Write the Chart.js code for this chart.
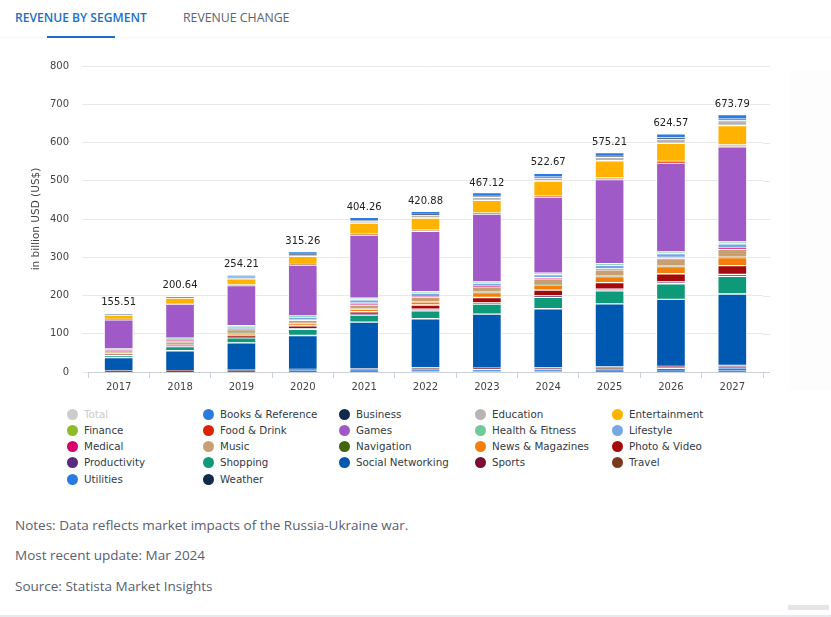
<!DOCTYPE html>
<html>
<head>
<meta charset="utf-8">
<script src="https://cdn.jsdelivr.net/npm/chart.js@4/dist/chart.umd.min.js"></script>
<style>
    html, body { margin: 0; padding: 0; background: #fff; }
    body { width: 831px; height: 617px; position: relative; overflow: hidden; font-family: "Open Sans", sans-serif; }
    .tab { position: absolute; top: 9px; white-space: nowrap; }
    .tab.active { left: 15px; color: #1a6fc9; font-size: 12.1px; font-weight: 600; }
    .tab.other { left: 183px; color: #5c6270; font-size: 12.3px; }
    #tabLine { position: absolute; left: 0; top: 37px; width: 831px; height: 1px; background: #f6f7f9; }
    #tabActive { position: absolute; left: 47px; top: 36px; width: 68px; height: 2px; background: #1a6fc9; }
    #chartBox { position: absolute; left: 0; top: 0; width: 831px; height: 401px; }
    #sideShade { position: absolute; left: 789px; top: 70px; width: 42px; height: 320px; background: #fdfdfe; }
    .legend-dot { position: absolute; width: 11px; height: 11px; border-radius: 50%; }
    .legend-text { position: absolute; font: 10.3px "DejaVu Sans", sans-serif; color: #333a45; white-space: nowrap; }
    .note { position: absolute; left: 15px; font-size: 13.5px; color: #5a6070; white-space: nowrap; }
    #footLine { position: absolute; left: 0; top: 615px; width: 831px; height: 2px; background: #e6e9ee; }
    #footBar { position: absolute; left: 788px; top: 605px; width: 41px; height: 5px; background: #e3e5e9; }
</style>
</head>
<body>
<div id="sideShade"></div>
<div class="tab active">REVENUE BY SEGMENT</div>
<div class="tab other">REVENUE CHANGE</div>
<div id="tabLine"></div>
<div id="tabActive"></div>
<div id="chartBox"><canvas id="segmentChart"></canvas></div>
<div id="legendBox"></div>
<div class="note" style="top:516px">Notes: Data reflects market impacts of the Russia-Ukraine war.</div>
<div class="note" style="top:546px">Most recent update: Mar 2024</div>
<div class="note" style="top:577px">Source: Statista Market Insights</div>
<div id="footBar"></div>
<div id="footLine"></div>

<script>
// ====== Categories and totals ======
const YEARS = ["2017", "2018", "2019", "2020", "2021", "2022", "2023", "2024", "2025", "2026", "2027"];
const TOTALS = [155.51, 200.64, 254.21, 315.26, 404.26, 420.88, 467.12, 522.67, 575.21, 624.57, 673.79];
const Y_TICKS = [0, 100, 200, 300, 400, 500, 600, 700, 800];

// ====== Segment values (billion USD) ======
const BOOKS = [0.5, 1.5, 6, 7, 8.5, 8, 10, 9.5, 10, 11, 12];
const BUSINESS = [0.2, 0.4, 1, 1.2, 1.5, 1.8, 2, 2.3, 2.6, 3, 3.5];
const EDUCATION = [0.3, 0.6, 3, 4, 5, 8, 8, 8, 9, 11, 13];
const ENTERTAINMENT = [11.5, 14.5, 16, 21, 29, 32, 33, 38, 45, 47, 50];
const FINANCE = [0.4, 0.5, 0.6, 0.7, 1, 1.1, 1.2, 1.4, 1.6, 1.8, 2];
const FOOD = [0.6, 0.8, 1, 1.2, 1.5, 1.7, 2, 2.3, 2.7, 3, 3.5];
const GAMES = [76, 89, 105, 133, 165, 158, 177, 199, 220, 232, 249];
const HEALTH = [1.5, 2, 3, 3, 4, 3.5, 3.5, 4, 4.2, 4.6, 5];
const LIFESTYLE = [3, 4, 6, 7, 9, 9, 8, 8, 9, 10, 11];
const MEDICAL = [0.8, 1, 1.2, 1.5, 5, 1.5, 1.8, 3, 2.4, 2.7, 3];
const MUSIC = [4, 5, 8, 8, 10, 12, 14, 15, 17, 20, 21];
const NAVIGATION = [0.2, 0.3, 0.3, 0.4, 0.4, 0.5, 0.6, 0.7, 0.8, 0.9, 1];
const NEWS = [3, 4, 6, 6, 7, 8, 13, 14, 16, 19, 21];
const PHOTO = [3, 4, 6, 7, 7, 11, 14, 15, 17, 21, 23];
const PRODUCTIVITY = [1, 1.5, 1.5, 2, 2, 4, 3.5, 3.5, 4.5, 5, 5];
const SHOPPING = [6, 11, 13, 16, 18, 21, 26, 30, 34, 41, 46];
const SOCIAL = [35, 52, 71, 89, 122.5, 128, 141, 154.5, 165, 175, 187];
const SPORTS = [0.4, 0.5, 0.6, 0.8, 1, 2, 1.5, 2, 2.5, 3, 3.5];
const TRAVEL = [0.5, 0.5, 0.7, 0.8, 1, 1, 1.5, 1.5, 2, 2, 2.5];
const UTILITIES = [1.5, 2, 3, 4, 5, 7, 6, 6, 7, 8, 9];
const WEATHER = [0.5, 0.6, 0.8, 0.9, 1, 1.2, 1.3, 1.4, 1.6, 1.8, 2];

// ---- legend order, the stack is drawn from the bottom of this list up ----
const SEGMENTS = [
    ["Books & Reference", BOOKS, "#2a7ae2"],
    ["Business", BUSINESS, "#0f2a4a"],
    ["Education", EDUCATION, "#b5b5b5"],
    ["Entertainment", ENTERTAINMENT, "#ffb300"],
    ["Finance", FINANCE, "#8cbc26"],
    ["Food & Drink", FOOD, "#dd2200"],
    ["Games", GAMES, "#a05ac8"],
    ["Health & Fitness", HEALTH, "#6fc99b"],
    ["Lifestyle", LIFESTYLE, "#77a8e4"],
    ["Medical", MEDICAL, "#d6006c"],
    ["Music", MUSIC, "#c79f73"],
    ["Navigation", NAVIGATION, "#41650a"],
    ["News & Magazines", NEWS, "#f57f0a"],
    ["Photo & Video", PHOTO, "#a50a0a"],
    ["Productivity", PRODUCTIVITY, "#5a2a80"],
    ["Shopping", SHOPPING, "#0e9a78"],
    ["Social Networking", SOCIAL, "#0059b0"],
    ["Sports", SPORTS, "#7b0c36"],
    ["Travel", TRAVEL, "#783a1e"],
    ["Utilities", UTILITIES, "#2a7ae2"],
    ["Weather", WEATHER, "#0f2a4a"]
];

// ---- Legend ----
function buildLegend() {
    const box = document.getElementById('legendBox');
    const columns = [67, 203, 339, 475, 612];
    const rows = [409, 425, 441, 457, 474];
    const items = [["Total", "#cccccc"]].concat(SEGMENTS.map(s => [s[0], s[2]]));
    items.forEach((item, i) => {
        const x = columns[i % 5];
        const y = rows[Math.floor(i / 5)];
        const dot = document.createElement('div');
        dot.className = 'legend-dot';
        dot.style.left = x + 'px';
        dot.style.top = y + 'px';
        dot.style.background = item[1];
        box.appendChild(dot);
        const text = document.createElement('div');
        text.className = 'legend-text';
        text.style.left = (x + 17) + 'px';
        text.style.top = (y - 1) + 'px';
        text.textContent = item[0];
        if (i === 0)
            text.style.color = '#cccccc';
        box.appendChild(text);
    });
}

// ---- Total labels above the stacks, gridlines run a bit past the plot ----
const totalLabels = {
    id: 'totalLabels',
    afterDatasetsDraw(chart) {
        const {ctx, scales: {x, y}} = chart;
        ctx.save();
        ctx.font = '10px "DejaVu Sans", sans-serif';
        ctx.fillStyle = '#222';
        ctx.textAlign = 'center';
        ctx.textBaseline = 'bottom';
        TOTALS.forEach((total, i) => {
            ctx.fillText(total.toFixed(2), x.getPixelForValue(i), y.getPixelForValue(total) - 5);
        });
        ctx.restore();
    }
};
const gridOverhang = {
    id: 'gridOverhang',
    beforeDatasetsDraw(chart) {
        const {ctx, chartArea, scales: {y}} = chart;
        ctx.save();
        ctx.lineWidth = 1;
        Y_TICKS.forEach(tick => {
            const py = Math.round(y.getPixelForValue(tick)) + 0.5;
            ctx.strokeStyle = tick === 0 ? '#ccd1d9' : '#e8e8e8';
            ctx.beginPath();
            ctx.moveTo(chartArea.right, py);
            ctx.lineTo(chartArea.right + 7, py);
            ctx.stroke();
        });
        ctx.restore();
    }
};

// ---- Draw Chart ----
function initChart() {
    const canvas = document.getElementById('segmentChart');
    new Chart(canvas, {
        type: 'bar',
        data: {
            labels: YEARS,
            datasets: SEGMENTS.slice().reverse().map(s => ({
                label: s[0],
                data: s[1],
                backgroundColor: s[2],
                borderColor: '#fff',
                borderWidth: 1,
                borderSkipped: false,
                barThickness: 29
            }))
        },
        options: {
            responsive: true,
            maintainAspectRatio: false,
            animation: false,
            layout: {padding: {left: 30, right: 68, top: 66, bottom: 0}},
            plugins: {legend: {display: false}, tooltip: {enabled: false}},
            scales: {
                x: {
                    stacked: true,
                    afterFit: scale => { scale.height = 29; },
                    grid: {drawOnChartArea: false, drawTicks: true, tickLength: 6, color: '#ccd1d9'},
                    border: {color: '#ccd1d9'},
                    ticks: {color: '#444', padding: 3, maxRotation: 0, font: {size: 10, family: '"DejaVu Sans", sans-serif'}}
                },
                y: {
                    stacked: true,
                    min: 0,
                    max: 800,
                    afterFit: scale => { scale.width = 58; },
                    afterBuildTicks: scale => { scale.ticks = Y_TICKS.map(value => ({value})); },
                    title: {
                        display: true,
                        text: 'in billion USD (US$)',
                        color: '#444',
                        padding: 0,
                        font: {size: 10.5, family: '"DejaVu Sans", sans-serif'}
                    },
                    grid: {color: '#e8e8e8', tickLength: 6},
                    border: {display: false},
                    ticks: {color: '#444', padding: 13, font: {size: 10, family: '"DejaVu Sans", sans-serif'}}
                }
            }
        },
        plugins: [gridOverhang, totalLabels]
    });
}

buildLegend();
initChart();
</script>
</body>
</html>
